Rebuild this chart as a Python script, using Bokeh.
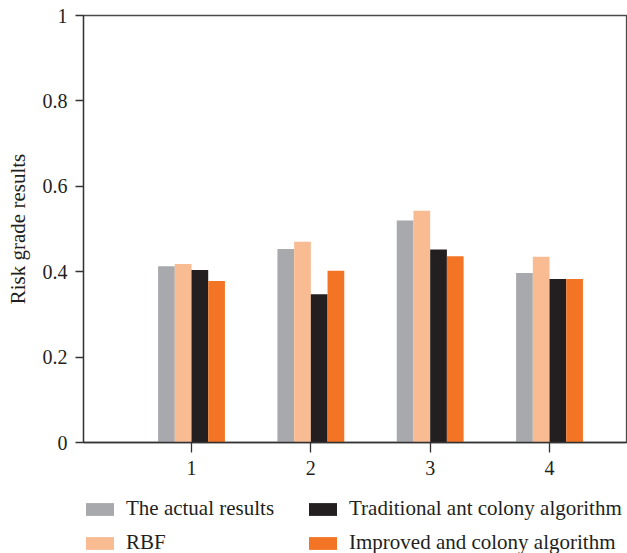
from bokeh.plotting import figure
from bokeh.models import Range1d, FixedTicker, Legend, LegendItem
from bokeh.layouts import column
from bokeh.transform import dodge
from bokeh.embed import file_html
from bokeh.resources import INLINE

groups = [1, 2, 3, 4]
actual = [0.413, 0.453, 0.520, 0.397]
rbf = [0.418, 0.470, 0.543, 0.435]
traditional = [0.404, 0.347, 0.452, 0.383]
improved = [0.378, 0.402, 0.436, 0.383]
series_names = ["The actual results", "RBF", "Traditional ant colony algorithm", "Improved and colony algorithm"]
colors = ["#a7a9ac", "#f9bb92", "#231f20", "#f27424"]
y_ticks = [0, 0.2, 0.4, 0.6, 0.8, 1]

FONT = "Liberation Serif"
TXT = "#231f20"

p = figure(width=627, height=485, output_backend="svg", toolbar_location=None,
           x_range=Range1d(0.095, 4.645), y_range=Range1d(0, 1),
           min_border_left=83, min_border_right=1, min_border_top=15, min_border_bottom=43)

data = dict(x=groups, a=actual, b=rbf, c=traditional, d=improved)
w = 0.14
offsets = [-1.5 * w, -0.5 * w, 0.5 * w, 1.5 * w]
for key, off, col in zip(["a", "b", "c", "d"], offsets, colors):
    p.vbar(x=dodge("x", off), top=key, width=w, bottom=0, source=data,
           fill_color=col, line_color=None)

p.grid.visible = False
p.outline_line_color = "#4a4a4a"
p.outline_line_width = 1.3

for ax in (p.xaxis[0], p.yaxis[0]):
    ax.axis_line_color = "#333333"
    ax.axis_line_width = 1.3
    ax.major_tick_line_color = "#333333"
    ax.major_tick_line_width = 1.3
    ax.major_tick_in = 0
    ax.minor_tick_line_color = None
    ax.major_label_text_font = FONT
    ax.major_label_text_font_size = "20px"
    ax.major_label_text_color = TXT

p.xaxis.ticker = FixedTicker(ticks=groups)
p.xaxis.major_tick_out = 10
p.xaxis.major_label_standoff = 8
p.yaxis.ticker = FixedTicker(ticks=y_ticks)
p.yaxis.major_label_overrides = {0: "0", 1: "1"}
p.yaxis.major_tick_out = 8
p.yaxis.major_label_standoff = 8
p.yaxis.axis_label = "Risk grade results"
p.yaxis.axis_label_text_font = FONT
p.yaxis.axis_label_text_font_size = "21px"
p.yaxis.axis_label_text_font_style = "normal"
p.yaxis.axis_label_text_color = TXT
p.yaxis.axis_label_standoff = 10

# legend panel (legend proxies: zero-height bars)
lg = figure(width=627, height=68, output_backend="svg", toolbar_location=None,
            x_range=Range1d(0, 1), y_range=Range1d(0, 1),
            x_axis_location=None, y_axis_location=None, min_border=0)
lg.grid.visible = False
lg.outline_line_color = None
rs = [lg.vbar(x=[0], top=[0], bottom=0, width=0.1, fill_color=c, line_color=None)
      for c in colors]
order = [0, 2, 1, 3]
items = [LegendItem(label=series_names[i], renderers=[rs[i]]) for i in order]
legend = Legend(items=items, orientation="horizontal", ncols=2,
                location=(-1, -2), border_line_color=None, background_fill_alpha=0,
                label_text_font=FONT, label_text_font_size="21px", label_text_color=TXT,
                glyph_width=35, glyph_height=16, label_standoff=9, spacing=9,
                label_width=170, padding=0, margin=0)
lg.add_layout(legend, "center")

layout = column(p, lg, spacing=0)
open("out.html", "w").write(file_html(layout, INLINE))
